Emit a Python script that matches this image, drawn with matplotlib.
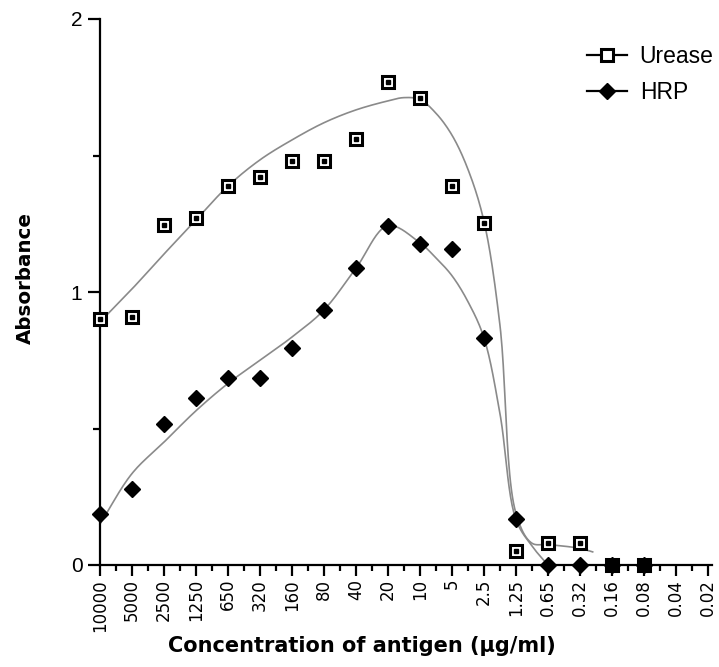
import numpy as np
import matplotlib
matplotlib.use("Agg")
import matplotlib.pyplot as plt
from matplotlib.lines import Line2D

# antigen dilution series (ug/ml), one slot per x position
conc_labels = ["10000", "5000", "2500", "1250", "650", "320", "160", "80", "40", "20",
               "10", "5", "2.5", "1.25", "0.65", "0.32", "0.16", "0.08", "0.04", "0.02"]

# measured absorbance (nan = no point)
urease = [0.90, 0.91, 1.245, 1.27, 1.39, 1.42, 1.48, 1.48, 1.56, 1.77,
          1.71, 1.39, 1.254, 0.05, 0.08, 0.08, 0.0, 0.0, np.nan, np.nan]
hrp = [0.185, 0.28, 0.516, 0.61, 0.685, 0.685, 0.795, 0.934, 1.087, 1.243,
       1.177, 1.156, 0.833, 0.167, 0.0, 0.0, 0.0, 0.0, np.nan, np.nan]

# hand drawn fit curves (position, absorbance)
urease_fit_x = [0, 1, 2, 3, 4, 5, 6, 7, 8, 9, 9.5, 10, 10.5, 11, 11.5, 12, 12.5, 13, 13.5, 14, 15, 15.4]
urease_fit_y = [0.89, 1.011, 1.139, 1.264, 1.388, 1.484, 1.557, 1.62, 1.667, 1.70, 1.712, 1.705,
                1.655, 1.575, 1.45, 1.26, 0.88, 0.19, 0.08, 0.075, 0.061, 0.048]
hrp_fit_x = [0, 1, 2, 3, 4, 5, 6, 7, 8, 9, 10, 10.5, 11, 11.5, 12, 12.5, 13, 13.5, 14]
hrp_fit_y = [0.15, 0.335, 0.45, 0.565, 0.665, 0.75, 0.835, 0.934, 1.087, 1.243,
             1.18, 1.125, 1.06, 0.965, 0.833, 0.556, 0.167, 0.07, 0.0]


def smooth(xs, ys, sx=32.0, sy=273.0, n=24):
    # centripetal catmull-rom through the read points (scaled to pixel-ish units)
    p = np.column_stack([np.array(xs) * sx, np.array(ys) * sy])
    p = np.vstack([2 * p[0] - p[1], p, 2 * p[-1] - p[-2]])
    out = []
    for i in range(1, len(p) - 2):
        p0, p1, p2, p3 = p[i - 1], p[i], p[i + 1], p[i + 2]
        t0 = 0.0
        t1 = t0 + np.linalg.norm(p1 - p0) ** 0.5
        t2 = t1 + np.linalg.norm(p2 - p1) ** 0.5
        t3 = t2 + np.linalg.norm(p3 - p2) ** 0.5
        t = np.linspace(t1, t2, n)[:, None]
        a1 = (t1 - t) / (t1 - t0) * p0 + (t - t0) / (t1 - t0) * p1
        a2 = (t2 - t) / (t2 - t1) * p1 + (t - t1) / (t2 - t1) * p2
        a3 = (t3 - t) / (t3 - t2) * p2 + (t - t2) / (t3 - t2) * p3
        b1 = (t2 - t) / (t2 - t0) * a1 + (t - t0) / (t2 - t0) * a2
        b2 = (t3 - t) / (t3 - t1) * a2 + (t - t1) / (t3 - t1) * a3
        c = (t2 - t) / (t2 - t1) * b1 + (t - t1) / (t2 - t1) * b2
        out.append(c)
    out = np.vstack(out)
    return out[:, 0] / sx, out[:, 1] / sy


fig = plt.figure(figsize=(7.19, 6.67), dpi=100)
ax = fig.add_axes([100 / 719, 102 / 667, 612 / 719, 546 / 667])

x = np.arange(len(conc_labels))
curve_col = "#8a8a8a"

ux, uy = smooth(urease_fit_x, urease_fit_y)
hx, hy = smooth(hrp_fit_x, hrp_fit_y)
ax.plot(ux, uy, color=curve_col, lw=1.2, zorder=2, clip_on=False)
ax.plot(hx, hy, color=curve_col, lw=1.2, zorder=2, clip_on=False)

# urease: open square with a dot inside
ax.plot(x, urease, ls="none", marker="s", ms=8.5, mfc="white", mec="black", mew=2.2,
        zorder=4, clip_on=False)
ax.plot(x, urease, ls="none", marker="s", ms=2.2, color="black", zorder=5, clip_on=False)
# HRP: filled diamond
ax.plot(x, hrp, ls="none", marker="D", ms=8.5, color="black", zorder=6, clip_on=False)

ax.set_xlim(0, 19.13)
ax.set_ylim(0, 2)

for s in ["top", "right"]:
    ax.spines[s].set_visible(False)
for s in ["left", "bottom"]:
    ax.spines[s].set_linewidth(1.6)

ax.set_yticks([0, 1, 2])
ax.set_yticks([0.5, 1.5], minor=True)
ax.set_yticklabels(["0", "1", "2"], fontsize=15, family="Liberation Sans")
ax.set_xticks(x)
ax.set_xticks(x[:-1] + 0.5, minor=True)
ax.set_xticklabels(conc_labels, rotation=90, fontsize=12, va="top", ha="center")

ax.tick_params(axis="y", which="major", direction="out", length=8.6, width=1.6, pad=4)
ax.tick_params(axis="y", which="minor", direction="out", length=5, width=1.6)
ax.tick_params(axis="x", which="major", direction="out", length=8, width=1.6, pad=2)
ax.tick_params(axis="x", which="minor", direction="out", length=4.3, width=1.6)

fig.text(362 / 719, 1 - 646 / 667, "Concentration of antigen (\u03bcg/ml)",
         ha="center", va="center", fontsize=15, fontweight="bold")
fig.text(25 / 719, 1 - 278 / 667, "Absorbance", rotation=90,
         ha="center", va="center", fontsize=14.3, fontweight="bold")

handles = [
    Line2D([], [], color="black", lw=1.6, marker="s", ms=8.5, mfc="white", mec="black", mew=2.2),
    Line2D([], [], color="black", lw=1.6, marker="D", ms=8.5, mfc="black", mec="black"),
]
leg = ax.legend(handles, ["Urease", "HRP"], loc="upper left",
                bbox_to_anchor=(587 / 719, 1 - 45 / 667), bbox_transform=fig.transFigure,
                frameon=False, borderpad=0, borderaxespad=0, handlelength=1.75,
                handletextpad=0.55, labelspacing=0.58,
                prop={"family": "Liberation Sans", "size": 16.5})

fig.savefig("out.png", dpi=100)
